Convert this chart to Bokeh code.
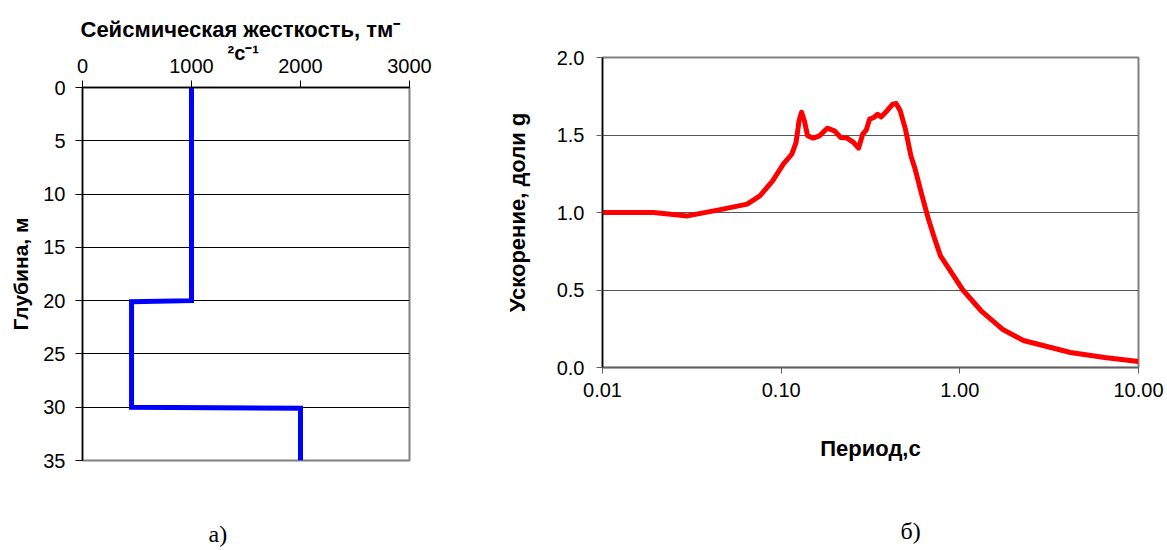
from bokeh.plotting import figure
from bokeh.models import Range1d, FixedTicker, Title
from bokeh.layouts import row
from bokeh.embed import file_html
from bokeh.resources import INLINE

# ---- data: left chart (seismic stiffness profile)
stiffness = [1000, 1000, 450, 450, 2000, 2000]
depth = [0, 20, 20.1, 30, 30.1, 35]
stiff_ticks = [0, 1000, 2000, 3000]
depth_ticks = [0, 5, 10, 15, 20, 25, 30, 35]

# ---- data: right chart (response spectrum)
period = [0.01, 0.0193, 0.0299, 0.0464, 0.0645, 0.076, 0.0896, 0.1028, 0.1147,
          0.1212, 0.1259, 0.130, 0.135, 0.1405, 0.151, 0.164, 0.181, 0.1986,
          0.2155, 0.234, 0.254, 0.271, 0.286, 0.299, 0.3126, 0.330, 0.3467,
          0.363, 0.394, 0.421, 0.44, 0.464, 0.496, 0.532, 0.562, 0.611, 0.663,
          0.719, 0.778, 0.896, 1.04, 1.315, 1.73, 2.27, 4.16, 6.46, 10.0]
accel = [1.0, 1.0, 0.978, 1.02, 1.054, 1.107, 1.204, 1.312, 1.376,
         1.452, 1.591, 1.647, 1.59, 1.495, 1.48, 1.495, 1.544, 1.527,
         1.484, 1.48, 1.452, 1.415, 1.505, 1.531, 1.602, 1.613, 1.634,
         1.617, 1.66, 1.699, 1.703, 1.656, 1.538, 1.366, 1.28, 1.118, 0.968,
         0.839, 0.722, 0.613, 0.5, 0.366, 0.247, 0.174, 0.097, 0.065, 0.039]
period_ticks = [0.01, 0.1, 1, 10]
period_labels = ["0.01", "0.10", "1.00", "10.00"]
accel_ticks = [0.0, 0.5, 1.0, 1.5, 2.0]

FONT = "Liberation Sans"
SERIF = "Liberation Serif"


def spacer(px):
    # blank title used only to push the caption further from the frame
    return Title(text=" ", text_font_size="1px", standoff=px - 3, text_color="white")


# ================= left figure =================
p1 = figure(width=490, height=550, output_backend="svg", toolbar_location=None,
            x_range=Range1d(0, 3000), y_range=Range1d(35, 0),
            x_axis_location="above", frame_align=False,
            min_border_left=82, min_border_right=81,
            min_border_top=87, min_border_bottom=90)
p1.outline_line_color = "#808080"
p1.outline_line_width = 2
p1.xgrid.grid_line_color = None
p1.ygrid.grid_line_color = "black"
p1.ygrid.grid_line_width = 1

p1.xaxis.ticker = FixedTicker(ticks=stiff_ticks)
p1.yaxis.ticker = FixedTicker(ticks=depth_ticks)
for ax in (p1.xaxis, p1.yaxis):
    ax.axis_line_color = "black"
    ax.axis_line_width = 1.5
    ax.major_tick_line_color = "black"
    ax.major_tick_in = 0
    ax.major_tick_out = 7
    ax.minor_tick_line_color = None
    ax.major_label_text_font = FONT
    ax.major_label_text_font_size = "20px"
    ax.major_label_text_color = "black"
p1.xaxis.major_label_standoff = 8
p1.yaxis.major_label_standoff = 10
p1.yaxis.axis_label = "Глубина, м"
p1.yaxis.axis_label_text_font = FONT
p1.yaxis.axis_label_text_font_size = "21px"
p1.yaxis.axis_label_text_font_style = "bold"
p1.yaxis.axis_label_text_color = "black"
p1.yaxis.axis_label_standoff = 8

p1.line(stiffness, depth, line_color="#0000FF", line_width=5, line_join="miter")

# two-line title (second line first: panels stack outward from the frame)
p1.add_layout(Title(text="²с⁻¹", align="left", offset=145, standoff=-16,
                    text_font=FONT, text_font_size="20px", text_font_style="bold",
                    text_color="black"), "above")
p1.add_layout(Title(text="Сейсмическая жесткость, тм⁻", align="left", offset=-2,
                    standoff=12, text_font=FONT, text_font_size="22px",
                    text_font_style="bold", text_color="black"), "above")
p1.add_layout(spacer(58), "below")
p1.add_layout(Title(text="а)", align="left", offset=126, standoff=0,
                    text_font=SERIF, text_font_size="24px", text_font_style="normal",
                    text_color="black"), "below")

# ================= right figure =================
p2 = figure(width=677, height=550, output_backend="svg", toolbar_location=None,
            x_axis_type="log", x_range=Range1d(0.01, 10), y_range=Range1d(0, 2),
            frame_align=False,
            min_border_left=112, min_border_right=29,
            min_border_top=57, min_border_bottom=183)
p2.outline_line_color = "#808080"
p2.outline_line_width = 2
p2.xgrid.grid_line_color = None
p2.ygrid.grid_line_color = "#555555"
p2.ygrid.grid_line_width = 1

p2.xaxis.ticker = FixedTicker(ticks=period_ticks)
p2.xaxis.major_label_overrides = {t: l for t, l in zip(period_ticks, period_labels)}
p2.yaxis.ticker = FixedTicker(ticks=accel_ticks)
p2.yaxis.major_label_overrides = {t: "%.1f" % t for t in accel_ticks}
for ax in (p2.xaxis, p2.yaxis):
    ax.axis_line_width = 1.5
    ax.major_tick_in = 0
    ax.major_tick_out = 6
    ax.minor_tick_line_color = None
    ax.major_label_text_font = FONT
    ax.major_label_text_font_size = "20px"
    ax.major_label_text_color = "black"
    ax.axis_label_text_font = FONT
    ax.axis_label_text_font_size = "22px"
    ax.axis_label_text_font_style = "bold"
    ax.axis_label_text_color = "black"
p2.xaxis.axis_line_color = "#606060"
p2.xaxis.major_tick_line_color = "#606060"
p2.yaxis.axis_line_color = "black"
p2.yaxis.major_tick_line_color = "#606060"
p2.xaxis.major_label_standoff = 9
p2.yaxis.major_label_standoff = 12
p2.xaxis.axis_label = "Период,с"
p2.xaxis.axis_label_standoff = 36
p2.yaxis.axis_label = "Ускорение, доли g"
p2.yaxis.axis_label_standoff = 24

p2.line(period, accel, line_color="#FF0000", line_width=5, line_join="round")

p2.add_layout(spacer(52), "below")
p2.add_layout(Title(text="б)", align="left", offset=298, standoff=0,
                    text_font=SERIF, text_font_size="24px", text_font_style="normal",
                    text_color="black"), "below")

layout = row(p1, p2)
open("out.html", "w").write(file_html(layout, INLINE))
